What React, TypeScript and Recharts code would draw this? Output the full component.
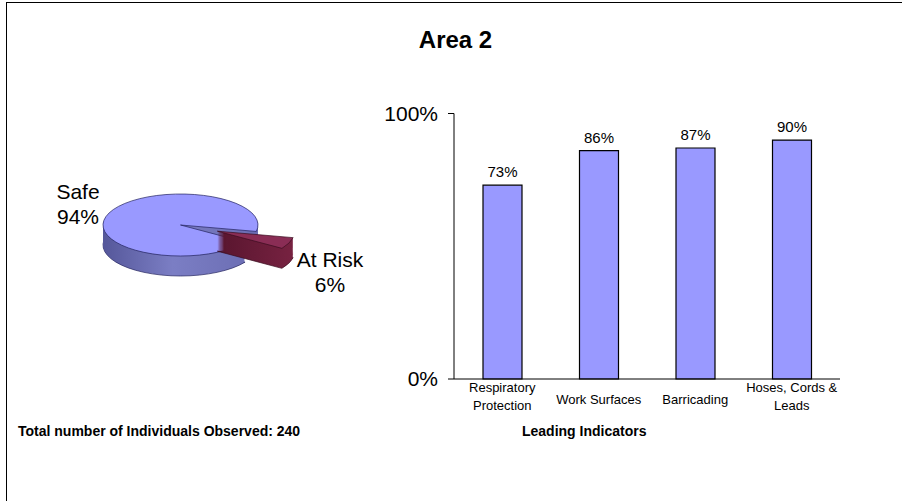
import React from 'react';
import { BarChart, Bar, XAxis, YAxis, LabelList, PieChart, Pie, Cell } from 'recharts';

// Observation split shown in the pie
const pieNames = ['Safe', 'At Risk'];
const pieValues = [94, 6];

// Leading indicator categories and their safe rates (%)
const categories = ['Respiratory\nProtection', 'Work Surfaces', 'Barricading', 'Hoses, Cords &\nLeads'];
const safeRates = [73, 86, 87, 90];
const yTicks = [0, 100];

const totalObserved = 240;

const FONT = '"Liberation Sans", Arial, Helvetica, sans-serif';

const pieData = pieNames.map((name, i) => ({ name, value: pieValues[i] }));
const barData = categories.map((name, i) => ({ name, rate: safeRates[i] }));
const pieTotal = pieValues.reduce((a, b) => a + b, 0);
const pct = (v: number) => `${Math.round((v / pieTotal) * 100)}%`;

// 3D pie: drawn in an unsquashed box, then flattened with scaleY
const SQUASH = 0.4;
const PIE_R = 77.5;
const PIE_CX = 100.5;
const PIE_CY = 100;
const DEPTH = 20; // screen pixels
const STEP = 1 / SQUASH;
const START = -12;
const EXPLODE = 40;
const OUTLINE = '#22225e';

const riskShare = pieValues[1] / pieTotal;
const riskMid = ((START + 360 * (1 - riskShare / 2)) * Math.PI) / 180;
const riskDx = EXPLODE * Math.cos(riskMid);
const riskDy = -EXPLODE * Math.sin(riskMid);

const layers = Array.from({ length: DEPTH }, (_, i) => DEPTH - i);

const CategoryTick = (props: any) => {
  const { x, y, payload } = props;
  const lines: string[] = String(payload.value).split('\n');
  const ys = lines.length === 1 ? [24.5] : [13, 31.3];
  return (
    <g>
      {lines.map((line, i) => (
        <text key={i} x={x} y={y + ys[i]} textAnchor="middle" fontSize={13} fill="#000" fontFamily={FONT}>
          {line}
        </text>
      ))}
    </g>
  );
};

export default function App() {
  const sliceProps = {
    data: pieData,
    dataKey: 'value',
    nameKey: 'name',
    outerRadius: PIE_R,
    startAngle: START,
    endAngle: START + 360,
    isAnimationActive: false,
  };

  return (
    <div
      style={{
        position: 'fixed',
        left: 0,
        top: 0,
        width: 902,
        height: 501,
        background: '#fff',
        overflow: 'hidden',
        fontFamily: FONT,
      }}
    >
      <div
        style={{
          position: 'absolute',
          left: 6,
          top: 2,
          width: 960,
          height: 560,
          borderTop: '1px solid #000',
          borderLeft: '1px solid #000',
        }}
      />

      <svg width={902} height={501} style={{ position: 'absolute', left: 0, top: 0 }}>
        <defs>
          <linearGradient id="safeSide" x1="0" y1="0" x2="1" y2="0">
            <stop offset="0%" stopColor="#55579a" />
            <stop offset="45%" stopColor="#7b7ec4" />
            <stop offset="100%" stopColor="#6a6cb2" />
          </linearGradient>
          <linearGradient id="riskSide" x1="0" y1="0" x2="1" y2="0">
            <stop offset="0%" stopColor="#58152e" />
            <stop offset="100%" stopColor="#772241" />
          </linearGradient>
        </defs>
      </svg>

      {/* pie: stacked layers give the side wall */}
      <div
        style={{
          position: 'absolute',
          left: 80,
          top: 185,
          width: 220,
          height: 300,
          transform: `scaleY(${SQUASH})`,
          transformOrigin: '0 0',
        }}
      >
        <PieChart width={220} height={300} margin={{ top: 0, right: 0, bottom: 0, left: 0 }}>
          {layers.map((k) => (
            <Pie key={`s${k}`} {...sliceProps} cx={PIE_CX} cy={PIE_CY + k * STEP}>
              <Cell
                fill="url(#safeSide)"
                stroke={k === DEPTH ? OUTLINE : 'none'}
                strokeWidth={1}
                vectorEffect="non-scaling-stroke"
              />
              <Cell fill="none" stroke="none" />
            </Pie>
          ))}
          <Pie key="stop" {...sliceProps} cx={PIE_CX} cy={PIE_CY}>
            <Cell fill="#9999ff" stroke={OUTLINE} strokeWidth={1} vectorEffect="non-scaling-stroke" />
            <Cell fill="none" stroke="none" />
          </Pie>
          {layers.map((k) => (
            <Pie key={`r${k}`} {...sliceProps} cx={PIE_CX + riskDx} cy={PIE_CY + riskDy + k * STEP}>
              <Cell fill="none" stroke="none" />
              <Cell
                fill="url(#riskSide)"
                stroke={k === DEPTH ? '#3a0c1e' : 'none'}
                strokeWidth={1}
                vectorEffect="non-scaling-stroke"
              />
            </Pie>
          ))}
          <Pie key="rtop" {...sliceProps} cx={PIE_CX + riskDx} cy={PIE_CY + riskDy}>
            <Cell fill="none" stroke="none" />
            <Cell fill="#8a2d55" stroke="#3a0c1e" strokeWidth={1} vectorEffect="non-scaling-stroke" />
          </Pie>
        </PieChart>
      </div>

      <div style={{ position: 'absolute', left: 370, top: 90 }}>
        <BarChart
          width={500}
          height={340}
          data={barData}
          margin={{ top: 23.5, right: 30, bottom: 11, left: 0 }}
        >
          <XAxis
            dataKey="name"
            interval={0}
            height={40}
            axisLine={{ stroke: '#000' }}
            tickLine={false}
            tickSize={0}
            tickMargin={0}
            tick={<CategoryTick />}
          />
          <YAxis
            type="number"
            domain={[0, 100]}
            ticks={yTicks}
            width={84}
            tickFormatter={(v: number) => `${v}%`}
            axisLine={{ stroke: '#000' }}
            tickLine={{ stroke: '#000' }}
            tickSize={6}
            tickMargin={10}
            tick={{ fontSize: 21, fill: '#000', fontFamily: FONT }}
          />
          <Bar dataKey="rate" fill="#9999ff" stroke="#000" strokeWidth={1.2} barSize={39} isAnimationActive={false}>
            <LabelList
              dataKey="rate"
              position="top"
              offset={8}
              formatter={(v: any) => `${v}%`}
              style={{ fontSize: 15, fill: '#000', fontFamily: FONT }}
            />
          </Bar>
        </BarChart>
      </div>

      <svg width={902} height={501} style={{ position: 'absolute', left: 0, top: 0, pointerEvents: 'none' }}>
        <text x={455.5} y={48} textAnchor="middle" fontSize={24} fontWeight="bold" fontFamily={FONT} fill="#000">
          Area 2
        </text>

        <text x={78} y={199} textAnchor="middle" fontSize={21} fontFamily={FONT} fill="#000">
          {pieNames[0]}
        </text>
        <text x={78} y={224} textAnchor="middle" fontSize={21} fontFamily={FONT} fill="#000">
          {pct(pieValues[0])}
        </text>
        <text x={330} y={267} textAnchor="middle" fontSize={21} fontFamily={FONT} fill="#000">
          {pieNames[1]}
        </text>
        <text x={330} y={292} textAnchor="middle" fontSize={21} fontFamily={FONT} fill="#000">
          {pct(pieValues[1])}
        </text>

        <text x={18} y={436} fontSize={14} fontWeight="bold" fontFamily={FONT} fill="#000">
          {`Total number of Individuals Observed: ${totalObserved}`}
        </text>
        <text x={522} y={436} fontSize={14} fontWeight="bold" fontFamily={FONT} fill="#000">
          Leading Indicators
        </text>
      </svg>
    </div>
  );
}
